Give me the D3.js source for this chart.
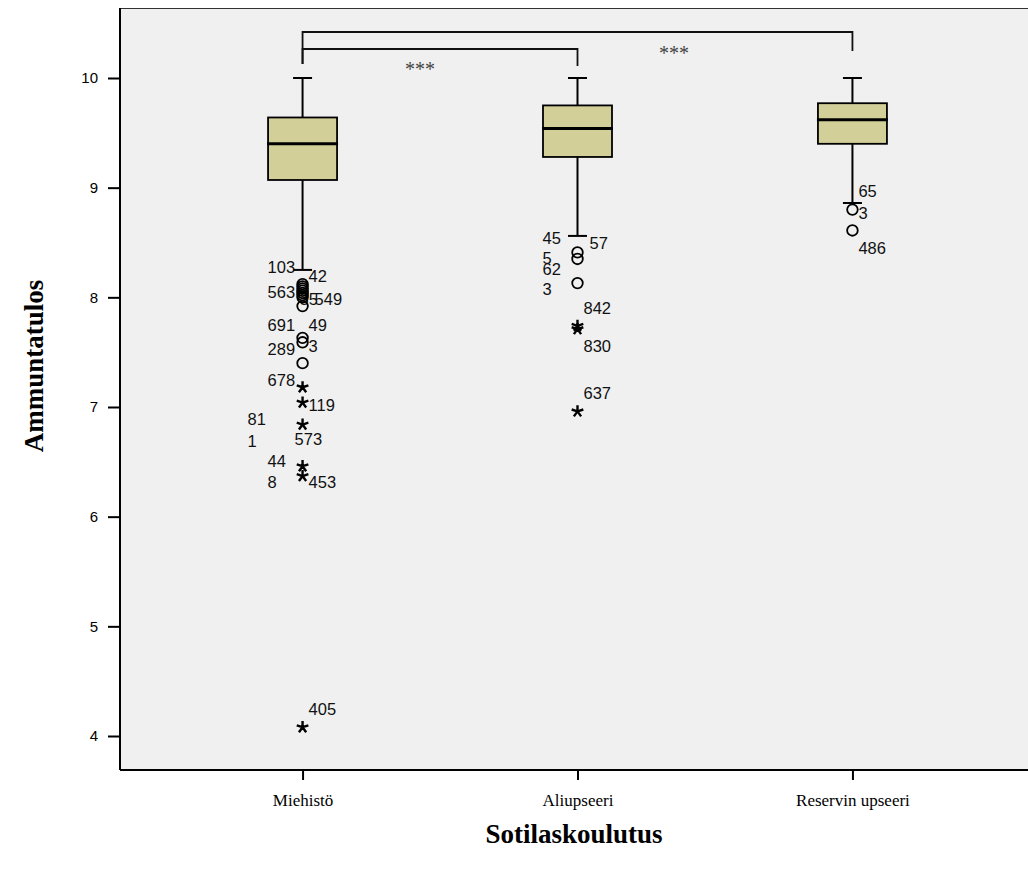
<!DOCTYPE html>
<html>
<head>
<meta charset="utf-8">
<script src="https://cdn.jsdelivr.net/npm/d3@7"></script>
<style>
  body { margin: 0; background: #fff; }
</style>
</head>
<body>
<div id="chart"></div>
<script>
var width = 1028,
    height = 877;

// groups and box statistics
var groups = ["Miehistö", "Aliupseeri", "Reservin upseeri"];
var whiskLow = [8.25, 8.56, 8.86];
var q1 = [9.07, 9.28, 9.40];
var median = [9.40, 9.54, 9.62];
var q3 = [9.64, 9.75, 9.77];
var whiskHigh = [10, 10, 10];

// outliers: [group, value]
var circles = [
  [0, 8.12], [0, 8.10], [0, 8.08], [0, 8.06], [0, 8.04], [0, 8.02], [0, 8.00], [0, 7.92],
  [0, 7.63], [0, 7.59], [0, 7.40],
  [1, 8.41], [1, 8.35], [1, 8.13],
  [2, 8.80], [2, 8.61]
];
var stars = [
  [0, 7.18], [0, 7.04], [0, 6.84], [0, 6.46], [0, 6.37], [0, 4.08],
  [1, 7.74], [1, 7.71], [1, 6.96]
];
// case labels: [group, value, text, side]
var labels = [
  [0, 8.27, "103", "L"], [0, 8.19, "42", "R"], [0, 8.05, "563", "L"], [0, 7.98, "35", "M"],
  [0, 7.98, "549", "RR"], [0, 7.75, "691", "L"], [0, 7.75, "49", "R"], [0, 7.53, "289", "L"],
  [0, 7.55, "3", "R"], [0, 7.24, "678", "L"], [0, 7.02, "119", "R"], [0, 6.89, "81", "LL"],
  [0, 6.69, "1", "LL"], [0, 6.71, "573", "C"], [0, 6.51, "44", "L"], [0, 6.31, "8", "L"],
  [0, 6.31, "453", "R"], [0, 4.24, "405", "R"],
  [1, 8.54, "45", "L"], [1, 8.49, "57", "RR"], [1, 8.36, "5", "L"], [1, 8.26, "62", "L"],
  [1, 8.07, "3", "L"], [1, 7.90, "842", "R"], [1, 7.55, "830", "R"], [1, 7.13, "637", "R"],
  [2, 8.97, "65", "R"], [2, 8.77, "3", "R"], [2, 8.45, "486", "R"]
];
var sideOffset = { L: -35, LL: -55, C: -8, M: -3, R: 6, RR: 12 };

var yTicks = [4, 5, 6, 7, 8, 9, 10];

// significance brackets: [from group, to group, level]
var brackets = [[0, 2, 0], [0, 1, 1]];

var svg = d3.select("#chart")
  .append("svg")
  .attr("width", width)
  .attr("height", height);

var pLeft = 120, pTop = 8, pBottom = 770, pRight = 1035;

var x = d3.scalePoint()
  .domain(groups)
  .range([pLeft, pRight])
  .padding(0.664);

var y = d3.scaleLinear()
  .domain([4, 10])
  .range([736, 78]);

// plot background
svg.append("rect")
  .attr("x", pLeft).attr("y", pTop)
  .attr("width", pRight - pLeft).attr("height", pBottom - pTop)
  .attr("fill", "#f0f0f0");
svg.append("line")
  .attr("x1", pLeft).attr("x2", pRight).attr("y1", pTop + 0.5).attr("y2", pTop + 0.5)
  .attr("stroke", "#333").attr("stroke-width", 1.2);

// y axis
var yAxis = svg.append("g").attr("transform", "translate(" + pLeft + ",0)")
  .call(d3.axisLeft(y).tickValues(yTicks).tickSize(12).tickPadding(10).tickFormat(d3.format("d")));
yAxis.select(".domain").attr("d", "M0," + pTop + "V" + pBottom).attr("stroke", "#000").attr("stroke-width", 2);
yAxis.selectAll(".tick line").attr("stroke", "#000").attr("stroke-width", 2);
yAxis.selectAll(".tick text").attr("font-family", "Arial, 'Liberation Sans', sans-serif")
  .attr("font-size", 15).attr("fill", "#000");

// x axis
var xAxis = svg.append("g").attr("transform", "translate(0," + pBottom + ")")
  .call(d3.axisBottom(x).tickSize(10).tickPadding(14));
xAxis.select(".domain").attr("d", "M" + pLeft + ",0H" + pRight).attr("stroke", "#000").attr("stroke-width", 2);
xAxis.selectAll(".tick line").attr("stroke", "#000").attr("stroke-width", 2);
xAxis.selectAll(".tick text").attr("font-family", "'Times New Roman', 'Liberation Serif', serif")
  .attr("font-size", 17).attr("fill", "#000");

// boxes
var boxW = 69, capW = 19;
var g = svg.selectAll(".box")
  .data(groups)
  .enter().append("g")
  .attr("class", "box");

g.append("line")
  .attr("x1", function(d) { return x(d); }).attr("x2", function(d) { return x(d); })
  .attr("y1", function(d, i) { return y(whiskHigh[i]); })
  .attr("y2", function(d, i) { return y(whiskLow[i]); })
  .attr("stroke", "#000").attr("stroke-width", 2);
[whiskHigh, whiskLow].forEach(function(arr) {
  g.append("line")
    .attr("x1", function(d) { return x(d) - capW / 2; }).attr("x2", function(d) { return x(d) + capW / 2; })
    .attr("y1", function(d, i) { return y(arr[i]); }).attr("y2", function(d, i) { return y(arr[i]); })
    .attr("stroke", "#000").attr("stroke-width", 2);
});
g.append("rect")
  .attr("x", function(d) { return x(d) - boxW / 2; })
  .attr("y", function(d, i) { return y(q3[i]); })
  .attr("width", boxW)
  .attr("height", function(d, i) { return y(q1[i]) - y(q3[i]); })
  .attr("fill", "#d3cf98").attr("stroke", "#000").attr("stroke-width", 1.8);
g.append("line")
  .attr("x1", function(d) { return x(d) - boxW / 2 - 1; }).attr("x2", function(d) { return x(d) + boxW / 2 + 1; })
  .attr("y1", function(d, i) { return y(median[i]); }).attr("y2", function(d, i) { return y(median[i]); })
  .attr("stroke", "#000").attr("stroke-width", 3);

// case labels
svg.selectAll(".lab")
  .data(labels)
  .enter().append("text")
  .attr("class", "lab")
  .attr("x", function(d) { return x(groups[d[0]]) + sideOffset[d[3]]; })
  .attr("y", function(d) { return y(d[1]); })
  .attr("dy", "0.35em")
  .attr("font-family", "Arial, 'Liberation Sans', sans-serif")
  .attr("font-size", 16.5)
  .attr("fill", "#111")
  .text(function(d) { return d[2]; });

// outliers
svg.selectAll(".out")
  .data(circles)
  .enter().append("circle")
  .attr("class", "out")
  .attr("cx", function(d) { return x(groups[d[0]]); })
  .attr("cy", function(d) { return y(d[1]); })
  .attr("r", 5.3)
  .attr("fill", "none").attr("stroke", "#000").attr("stroke-width", 1.8);

// five-armed asterisk for extreme values
var asterisk = {
  draw: function(context, size) {
    var r = Math.sqrt(size) / 2;
    for (var k = 0; k < 5; k++) {
      var a = -Math.PI / 2 + k * 2 * Math.PI / 5;
      context.moveTo(0, 0);
      context.lineTo(r * Math.cos(a), r * Math.sin(a));
    }
  }
};
svg.selectAll(".ext")
  .data(stars)
  .enter().append("path")
  .attr("class", "ext")
  .attr("transform", function(d) { return "translate(" + x(groups[d[0]]) + "," + y(d[1]) + ")"; })
  .attr("d", d3.symbol().type(asterisk).size(150))
  .attr("fill", "none").attr("stroke", "#000").attr("stroke-width", 2.4);

// significance brackets
var bTop = [32, 49], bDrop = [51, 66];
brackets.forEach(function(b) {
  var x1 = x(groups[b[0]]), x2 = x(groups[b[1]]), lv = b[2];
  svg.append("path")
    .attr("d", "M" + x1 + "," + 64 + "V" + bTop[lv] + "H" + x2 + "V" + bDrop[lv])
    .attr("fill", "none").attr("stroke", "#111").attr("stroke-width", 1.8);
});
svg.append("text").attr("x", 420).attr("y", 76).attr("text-anchor", "middle")
  .attr("font-family", "'Times New Roman', 'Liberation Serif', serif").attr("font-size", 20)
  .attr("fill", "#444").text("***");
svg.append("text").attr("x", 674).attr("y", 60).attr("text-anchor", "middle")
  .attr("font-family", "'Times New Roman', 'Liberation Serif', serif").attr("font-size", 20)
  .attr("fill", "#444").text("***");

// titles
svg.append("text")
  .attr("x", 574).attr("y", 843).attr("text-anchor", "middle")
  .attr("font-family", "'Times New Roman', 'Liberation Serif', serif")
  .attr("font-size", 27).attr("font-weight", "bold")
  .text("Sotilaskoulutus");
svg.append("text")
  .attr("transform", "translate(43,366) rotate(-90)")
  .attr("text-anchor", "middle")
  .attr("font-family", "'Times New Roman', 'Liberation Serif', serif")
  .attr("font-size", 27).attr("font-weight", "bold")
  .text("Ammuntatulos");
</script>
</body>
</html>
